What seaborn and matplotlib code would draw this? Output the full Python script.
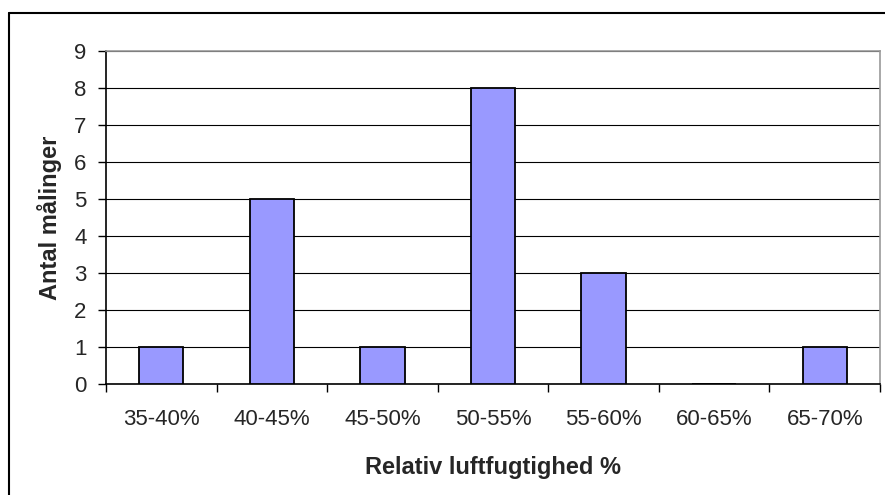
import matplotlib
matplotlib.use("Agg")
import matplotlib.pyplot as plt
import seaborn as sns
import pandas as pd
from matplotlib.lines import Line2D

categories = ["35-40%", "40-45%", "45-50%", "50-55%", "55-60%", "60-65%", "65-70%"]
counts = [1, 5, 1, 8, 3, 0, 1]
y_ticks = [0, 1, 2, 3, 4, 5, 6, 7, 8, 9]

sns.set_style("white")
plt.rcParams['font.family'] = ['Liberation Sans', 'DejaVu Sans']

df = pd.DataFrame({"cat": categories, "n": counts})

fig = plt.figure(figsize=(8.85, 4.95), dpi=100)
ax = fig.add_axes([106/885, 1 - 384/495, (880 - 106)/885, (384 - 51)/495])

sns.barplot(data=df, x="cat", y="n", color="#9999FF", edgecolor="black",
            linewidth=1.3, width=0.4, saturation=1, ax=ax, zorder=3)

ax.set_ylim(0, 9)
ax.set_xlim(-0.5, len(categories) - 0.5)
ax.set_yticks(y_ticks)
ax.yaxis.grid(True, color="black", linewidth=0.8, zorder=0)
ax.set_axisbelow(True)

# category boundary ticks on x-axis
ax.set_xticks([i + 0.5 for i in range(-1, len(categories))], minor=False)
ax.set_xticklabels([])
ax.set_xticks(range(len(categories)), minor=True)
ax.set_xticklabels(categories, minor=True)
ax.tick_params(axis="x", which="major", direction="out", length=6, width=1, color="black", bottom=True)
ax.tick_params(axis="x", which="minor", length=0, labelsize=16, pad=18)
ax.tick_params(axis="y", direction="out", length=6, width=1, color="black", left=True, labelsize=16, pad=8)

for s in ["left", "bottom"]:
    ax.spines[s].set_color("black")
    ax.spines[s].set_linewidth(1.2)
for s in ["top", "right"]:
    ax.spines[s].set_color("#999999")
    ax.spines[s].set_linewidth(1.2)

ax.set_xlabel("Relativ luftfugtighed %", fontsize=17, fontweight="bold", labelpad=19)
ax.set_ylabel("Antal målinger", fontsize=17, fontweight="bold", labelpad=9)

# outer chart frame (top and left edges visible)
fig.add_artist(Line2D([9/885, 1], [1 - 13/495, 1 - 13/495], transform=fig.transFigure, color="black", linewidth=1.5))
fig.add_artist(Line2D([9/885, 9/885], [0, 1 - 13/495], transform=fig.transFigure, color="black", linewidth=1.5))

fig.savefig("out.png", dpi=100)
